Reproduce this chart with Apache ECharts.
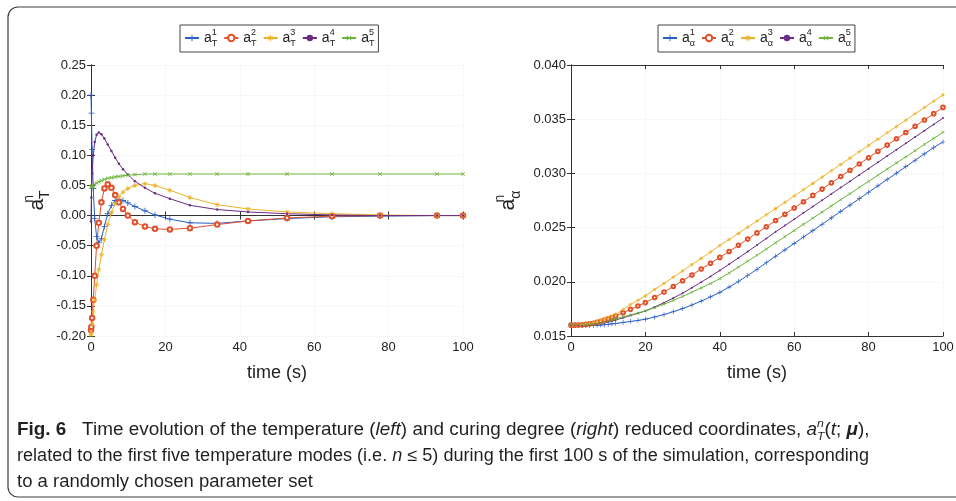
<!DOCTYPE html>
<html>
<head>
<meta charset="utf-8">
<script src="https://cdn.jsdelivr.net/npm/echarts@6.0.0/dist/echarts.min.js"></script>
<style>
  html, body { margin: 0; padding: 0; background: #fff; }
  #chart { width: 956px; height: 501px; }
</style>
</head>
<body>
<div id="chart"></div>
<script>
// time steps of the left (temperature) panel, seconds
const tTemp = [0, 0.1, 0.3, 0.6, 1.0, 1.5, 2.1, 2.8, 3.6, 4.5, 5.5, 6.5, 7.5, 8.6, 9.9,
  11.8, 14.5, 17.2, 21.2, 26.6, 33.9, 42.2, 52.7, 64.8, 77.7, 93, 100];

const aT1 = [0.20, 0.17, 0.11, 0.045, -0.005, -0.035, -0.045, -0.038, -0.018, 0.003,
  0.017, 0.025, 0.027, 0.025, 0.021, 0.015, 0.008, 0.001, -0.006, -0.012,
  -0.013, -0.009, -0.005, -0.002, -0.001, 0, 0];
const aT2 = [-0.19, -0.185, -0.17, -0.14, -0.10, -0.05, -0.012, 0.022, 0.045, 0.052,
  0.046, 0.034, 0.022, 0.011, 0.0, -0.011, -0.018, -0.022, -0.023, -0.021,
  -0.015, -0.009, -0.004, -0.001, 0, 0, 0];
const aT3 = [-0.198, -0.195, -0.18, -0.16, -0.14, -0.115, -0.09, -0.065, -0.04, -0.015,
  0.005, 0.02, 0.031, 0.039, 0.045, 0.05, 0.053, 0.05, 0.042, 0.03,
  0.018, 0.011, 0.006, 0.003, 0.001, 0, 0];
const aT4 = [-0.01, 0.03, 0.07, 0.10, 0.122, 0.134, 0.138, 0.135, 0.128, 0.118,
  0.107, 0.096, 0.086, 0.077, 0.068, 0.057, 0.046, 0.037, 0.028, 0.017,
  0.010, 0.006, 0.003, 0.001, 0, 0, 0];
const aT5 = [0.047, 0.048, 0.049, 0.050, 0.052, 0.054, 0.056, 0.058, 0.060, 0.062,
  0.063, 0.064, 0.065, 0.066, 0.067, 0.068, 0.069, 0.069, 0.069, 0.069,
  0.069, 0.069, 0.069, 0.069, 0.069, 0.069, 0.069];

// time steps of the right (curing degree) panel, seconds
const tCure = [0, 1, 2, 3, 4, 5, 6, 7, 8, 9, 10, 11, 12, 14, 16, 18, 20,
  22.5, 25, 27.5, 30, 32.5, 35, 37.5, 40, 42.5, 45, 47.5, 50, 52.5, 55,
  57.5, 60, 62.5, 65, 67.5, 70, 72.5, 75, 77.5, 80, 82.5, 85, 87.5, 90, 92.5, 95, 97.5, 100];

const aA1 = [0.01610, 0.01605, 0.01600, 0.01597, 0.01595, 0.01595, 0.01596, 0.01598, 0.01601, 0.01604,
  0.01608, 0.01612, 0.01616, 0.01625, 0.01634, 0.01644, 0.01655,
  0.01675, 0.01698, 0.01724, 0.01753, 0.01786, 0.01822, 0.01861, 0.01903, 0.01951, 0.02003, 0.02058, 0.02116, 0.02176, 0.02236,
  0.02295, 0.02354, 0.02413, 0.02472, 0.02531, 0.02590, 0.02649, 0.02708, 0.02767, 0.02826, 0.02885, 0.02944, 0.03003, 0.03062, 0.03121, 0.03180, 0.03239, 0.03290];
const aA2 = [0.01600, 0.01600, 0.01601, 0.01603, 0.01607, 0.01612, 0.01618, 0.01626, 0.01635, 0.01646,
  0.01658, 0.01671, 0.01685, 0.01715, 0.01746, 0.01777, 0.01808,
  0.01855, 0.01905, 0.01957, 0.02010, 0.02063, 0.02117, 0.02171, 0.02225, 0.02280, 0.02337, 0.02394, 0.02451, 0.02508, 0.02565,
  0.02623, 0.02681, 0.02739, 0.02797, 0.02855, 0.02913, 0.02971, 0.03029, 0.03087, 0.03145, 0.03203, 0.03261, 0.03319, 0.03377, 0.03435, 0.03493, 0.03551, 0.03609];
const aA3 = [0.01600, 0.01600, 0.01602, 0.01605, 0.01610, 0.01617, 0.01626, 0.01636, 0.01647, 0.01658,
  0.01670, 0.01684, 0.01700, 0.01745, 0.01790, 0.01830, 0.01870,
  0.01930, 0.01985, 0.02043, 0.02100, 0.02158, 0.02216, 0.02275, 0.02335, 0.02390, 0.02447, 0.02504, 0.02561, 0.02618, 0.02675,
  0.02733, 0.02791, 0.02850, 0.02908, 0.02966, 0.03025, 0.03083, 0.03141, 0.03200, 0.03258, 0.03316, 0.03375, 0.03433, 0.03491, 0.03550, 0.03608, 0.03666, 0.03724];
const aA4 = [0.01600, 0.01599, 0.01598, 0.01598, 0.01599, 0.01601, 0.01605, 0.01610, 0.01616, 0.01623,
  0.01630, 0.01639, 0.01648, 0.01668, 0.01689, 0.01710, 0.01731,
  0.01767, 0.01807, 0.01850, 0.01895, 0.01945, 0.01997, 0.02050, 0.02105, 0.02162, 0.02220, 0.02279, 0.02339, 0.02400, 0.02461,
  0.02519, 0.02577, 0.02636, 0.02694, 0.02752, 0.02811, 0.02869, 0.02927, 0.02986, 0.03044, 0.03102, 0.03161, 0.03219, 0.03277, 0.03336, 0.03394, 0.03452, 0.03510];
const aA5 = [0.01610, 0.01608, 0.01606, 0.01605, 0.01605, 0.01606, 0.01609, 0.01613, 0.01619, 0.01628,
  0.01640, 0.01649, 0.01658, 0.01676, 0.01694, 0.01712, 0.01731,
  0.01762, 0.01794, 0.01828, 0.01865, 0.01904, 0.01944, 0.01984, 0.02030, 0.02081, 0.02135, 0.02190, 0.02245, 0.02302, 0.02360,
  0.02417, 0.02473, 0.02530, 0.02587, 0.02643, 0.02700, 0.02757, 0.02813, 0.02870, 0.02927, 0.02983, 0.03040, 0.03097, 0.03153, 0.03210, 0.03267, 0.03323, 0.03380];

const modes = ['1', '2', '3', '4', '5'];

const captionLines = [
  '{b|Fig. 6}   Time evolution of the temperature ({i|left}) and curing degree ({i|right}) reduced coordinates, {i|a}{sp|n}{sb|T}({i|t}; {bi|μ}),',
  'related to the first five temperature modes (i.e. {i|n} ≤ 5) during the first 100 s of the simulation, corresponding',
  'to a randomly chosen parameter set',
];

const FONT = 'Liberation Sans, Arial, sans-serif';
const INK = '#222';
const CAP_INK = '#231f20';
const CAP = 17.5;
// matlab-ish default line colours
const COLORS = ['#2a5fc4', '#e2502a', '#edb22a', '#6b2d86', '#6cb43a'];

// marker shapes: +, o, *, ., x
const PLUS = 'path://M-1,-0.14H1V0.14H-1Z M-0.14,-1H0.14V1H-0.14Z';
const STAR = PLUS + ' M-0.78,-0.62L0.62,0.78L0.78,0.62L-0.62,-0.78Z M0.62,-0.78L0.78,-0.62L-0.62,0.78L-0.78,0.62Z';
const MARKERS = [
  { symbol: PLUS, size: 6, rotate: 0 },
  { symbol: 'emptyCircle', size: 4.5, rotate: 0 },
  { symbol: STAR, size: 5, rotate: 0 },
  { symbol: 'circle', size: 2.5, rotate: 0 },
  { symbol: PLUS, size: 5, rotate: 45 },
];

function pairs(t, v) { return t.map((x, i) => [x, v[i]]); }

function scriptStyles(base, small, family, lh) {
  return {
    a: { fontSize: base, fontFamily: family, color: INK, lineHeight: lh },
    sp: { fontSize: small, fontFamily: family, color: INK, verticalAlign: 'top', width: 0, lineHeight: small + 2 },
    sb: { fontSize: small, fontFamily: family, color: INK, verticalAlign: 'bottom', lineHeight: small + 2 },
  };
}

function xAxes(grid) {
  const common = {
    gridIndex: grid, type: 'value', min: 0, max: 100, interval: 20,
    axisLine: { show: true, lineStyle: { color: '#333', width: 1 } },
    axisTick: { show: true, inside: true, length: 4, lineStyle: { color: '#333' } },
  };
  return [
    Object.assign({}, common, {
      position: 'bottom',
      name: 'time (s)', nameLocation: 'middle', nameGap: 28,
      nameTextStyle: { fontSize: 18, color: INK, fontFamily: FONT },
      axisLabel: { color: INK, fontSize: 13, margin: 5, fontFamily: FONT },
      splitLine: { show: true, lineStyle: { color: '#efefef', type: 'dotted' } },
    }),
    Object.assign({}, common, {
      position: 'top',
      axisLabel: { show: false }, splitLine: { show: false },
    }),
  ];
}

function yAxes(grid, min, max, interval, digits, sub, gap) {
  const common = {
    gridIndex: grid, type: 'value', min: min, max: max, interval: interval,
    axisLine: { show: true, lineStyle: { color: '#333', width: 1 } },
    axisTick: { show: true, inside: true, length: 4, lineStyle: { color: '#333' } },
  };
  return [
    Object.assign({}, common, {
      position: 'left',
      name: '{a|a}{sp|n}{sb|' + sub + '}', nameLocation: 'middle', nameRotate: 90, nameGap: gap,
      nameTextStyle: { rich: scriptStyles(21, 14, FONT, 30) },
      axisLabel: {
        color: INK, fontSize: 13, margin: 5, fontFamily: FONT,
        formatter: (v) => (Math.abs(v) < 1e-9 ? 0 : v).toFixed(digits),
      },
      splitLine: { show: true, lineStyle: { color: '#efefef', type: 'dotted' } },
    }),
    Object.assign({}, common, {
      position: 'right',
      axisLabel: { show: false }, splitLine: { show: false },
    }),
  ];
}

function legendFor(prefix, sub, left) {
  return {
    left: left, top: 25,
    data: modes.map((m) => prefix + m),
    formatter: (name) => '{a|a}{sp|' + name.slice(-1) + '}{sb|' + sub + '}',
    textStyle: { rich: scriptStyles(14, 9, FONT, 20) },
    itemWidth: 14, itemHeight: 8, itemGap: 6,
    padding: [3, 4, 4, 4],
    borderColor: '#444', borderWidth: 1, borderRadius: 0,
    backgroundColor: '#fff',
    selectedMode: false,
  };
}

function seriesFor(prefix, t, values, xi, yi, scale) {
  return values.map((v, i) => ({
    type: 'line',
    name: prefix + modes[i],
    xAxisIndex: xi, yAxisIndex: yi,
    data: pairs(t, v),
    color: COLORS[i],
    lineStyle: { width: 1 },
    symbol: MARKERS[i].symbol,
    symbolSize: MARKERS[i].size * scale,
    symbolRotate: MARKERS[i].rotate,
    showAllSymbol: true,
    itemStyle: { borderWidth: 1 },
    animation: false,
  }));
}

// the figure's caption face is condensed; squeeze a regular face to each
// line's width in the figure instead
const captionWidths = [856, 852, 296];
const measure = document.createElement('canvas').getContext('2d');
function captionScale(line, k) {
  const plain = line.replace(/\{sp\|[^}]*\}/g, '').replace(/\{\w+\|([^}]*)\}/g, '$1');
  measure.font = CAP + 'px ' + FONT;
  let w = measure.measureText(plain).width;
  if (k === 0) {
    const regular = measure.measureText('Fig. 6').width;
    measure.font = 'bold ' + CAP + 'px ' + FONT;
    w += measure.measureText('Fig. 6').width - regular;
  }
  return captionWidths[k] / w;
}

const tok = (extra) => Object.assign({ fontSize: CAP, fontFamily: FONT, color: CAP_INK, lineHeight: 24 }, extra);
const captionRich = {
  b: tok({ fontWeight: 'bold' }),
  i: tok({ fontStyle: 'italic' }),
  bi: tok({ fontStyle: 'italic', fontWeight: 'bold' }),
  sp: tok({ fontSize: CAP * 0.65, fontStyle: 'italic', verticalAlign: 'top', width: 0, lineHeight: 12 }),
  sb: tok({ fontSize: CAP * 0.65, fontStyle: 'italic', verticalAlign: 'bottom', lineHeight: 12 }),
};

const chart = echarts.init(document.getElementById('chart'));

chart.setOption({
  animation: false,
  backgroundColor: '#fff',
  textStyle: { fontFamily: FONT },
  grid: [
    { left: 91, top: 65, width: 372, height: 271, outerBoundsMode: 'none' },
    { left: 571, top: 65, width: 372, height: 271, outerBoundsMode: 'none' },
  ],
  xAxis: xAxes(0).concat(xAxes(1)),
  yAxis: yAxes(0, -0.2, 0.25, 0.05, 2, 'T', 33).concat(yAxes(1, 0.015, 0.04, 0.005, 3, 'α', 48)),
  legend: [legendFor('T', 'T', 180), legendFor('A', 'α', 658)],
  series: seriesFor('T', tTemp, [aT1, aT2, aT3, aT4, aT5], 0, 0, 1)
    .concat(seriesFor('A', tCure, [aA1, aA2, aA3, aA4, aA5], 2, 2, 0.8)),
  graphic: [
    {
      type: 'rect', z: -1, silent: true,
      shape: { x: 8, y: 7, width: 1000, height: 490, r: 10 },
      style: { fill: 'none', stroke: '#3c3c3c', lineWidth: 1.2 },
    },
  ].concat(captionLines.map((line, k) => ({
    type: 'text', silent: true,
    x: 17, y: 430 + k * 26,
    scaleX: captionScale(line, k),
    style: {
      text: line, rich: captionRich,
      fontSize: CAP, fontFamily: FONT, fill: CAP_INK, lineHeight: 24,
      verticalAlign: 'middle', align: 'left',
    },
  }))),
});
</script>
</body>
</html>
